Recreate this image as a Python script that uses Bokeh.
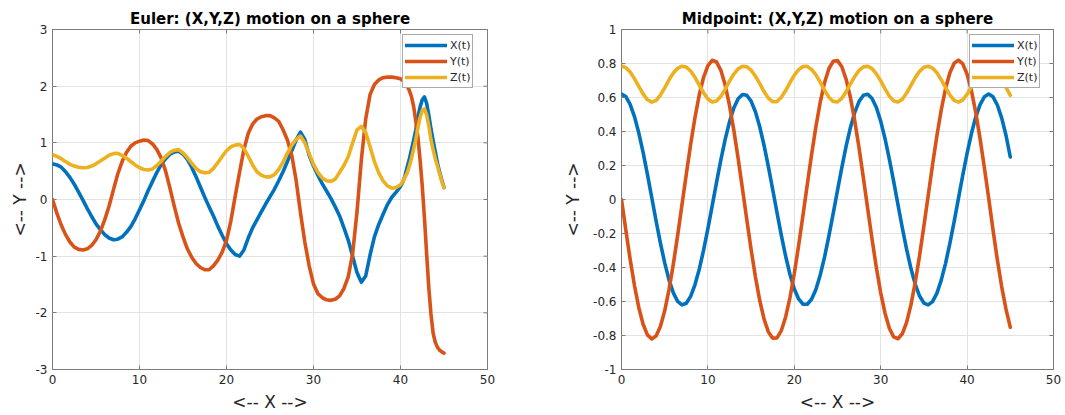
import math
from bokeh.plotting import figure
from bokeh.layouts import row
from bokeh.models import (Range1d, FixedTicker, PrintfTickFormatter,
                          Legend, LegendItem)
from bokeh.embed import file_html
from bokeh.resources import INLINE

# ---------------- data ----------------
x_ticks = [0, 10, 20, 30, 40, 50]
euler_y_ticks = [-3, -2, -1, 0, 1, 2, 3]
mid_y_ticks = [-1, -0.8, -0.6, -0.4, -0.2, 0, 0.2, 0.4, 0.6, 0.8, 1]
series_labels = ["X(t)", "Y(t)", "Z(t)"]

# time samples (Euler: finer near the end)
t_euler = [i * 0.5 for i in range(81)] + [40 + 0.25 * i for i in range(1, 21)]
t_mid = [i * 0.5 for i in range(91)]

euler_x = [0.63, 0.61, 0.57, 0.49, 0.39, 0.27, 0.13, -0.01, -0.16, -0.30, -0.43, -0.53, -0.62, -0.68, -0.71,
           -0.70, -0.66, -0.58, -0.48, -0.34, -0.18, -0.02, 0.16, 0.32, 0.48, 0.62, 0.72, 0.80, 0.84, 0.85,
           0.80, 0.71, 0.57, 0.40, 0.22, 0.04, -0.13, -0.29, -0.47, -0.63, -0.78, -0.89, -0.97, -1.00, -0.89,
           -0.68, -0.50, -0.36, -0.22, -0.08, 0.05, 0.18, 0.33, 0.49, 0.67, 0.86, 1.05, 1.19, 1.06, 0.78,
           0.59, 0.43, 0.28, 0.15, 0.02, -0.13, -0.29, -0.50, -0.72, -1.00, -1.29, -1.46, -1.35, -0.98, -0.66,
           -0.44, -0.26, -0.09, 0.04, 0.13, 0.23,
           0.30, 0.41, 0.56, 0.70, 0.87, 1.04, 1.22, 1.45, 1.63, 1.76, 1.81, 1.70, 1.49, 1.25, 1.04, 0.84, 0.64,
           0.48, 0.34, 0.21]
euler_y = [0.00, -0.24, -0.45, -0.62, -0.75, -0.84, -0.88, -0.89, -0.87, -0.81, -0.71, -0.56, -0.36, -0.12, 0.17,
           0.45, 0.67, 0.83, 0.94, 1.00, 1.03, 1.05, 1.04, 0.98, 0.88, 0.73, 0.50, 0.20, -0.12, -0.42,
           -0.66, -0.87, -1.02, -1.13, -1.20, -1.24, -1.24, -1.17, -1.07, -0.93, -0.72, -0.38, 0.06, 0.48, 0.88,
           1.17, 1.33, 1.42, 1.46, 1.48, 1.48, 1.44, 1.38, 1.23, 1.05, 0.78, 0.34, -0.23, -0.75, -1.17,
           -1.49, -1.66, -1.73, -1.77, -1.78, -1.76, -1.70, -1.57, -1.36, -0.95, -0.22, 0.70, 1.42, 1.85, 2.03,
           2.11, 2.15, 2.16, 2.16, 2.15, 2.13,
           2.10, 2.06, 2.01, 1.93, 1.82, 1.65, 1.40, 1.10, 0.70, 0.24, -0.32, -0.95, -1.55, -2.02, -2.36, -2.52,
           -2.61, -2.66, -2.69, -2.71]
euler_z = [0.79, 0.76, 0.72, 0.67, 0.62, 0.59, 0.57, 0.56, 0.565, 0.59, 0.63, 0.68, 0.73, 0.78, 0.81,
           0.815, 0.78, 0.73, 0.67, 0.61, 0.56, 0.53, 0.52, 0.54, 0.60, 0.68, 0.76, 0.83, 0.87, 0.88,
           0.82, 0.74, 0.64, 0.55, 0.49, 0.47, 0.48, 0.55, 0.65, 0.76, 0.86, 0.93, 0.96, 0.97, 0.90,
           0.76, 0.61, 0.49, 0.43, 0.40, 0.40, 0.44, 0.53, 0.66, 0.82, 0.96, 1.06, 1.12, 1.00, 0.81,
           0.62, 0.48, 0.38, 0.33, 0.32, 0.36, 0.48, 0.60, 0.76, 1.00, 1.23, 1.29, 1.18, 0.93, 0.67,
           0.47, 0.33, 0.24, 0.20, 0.21, 0.26,
           0.31, 0.39, 0.46, 0.58, 0.72, 0.88, 1.05, 1.26, 1.45, 1.57, 1.60, 1.50, 1.30, 1.06, 0.88, 0.72, 0.59,
           0.45, 0.32, 0.21]

mid_x = [0.620, 0.605, 0.560, 0.488, 0.392, 0.277, 0.148, 0.012, -0.125, -0.255, -0.373, -0.473, -0.549, -0.599, -0.620,
         -0.610, -0.570, -0.502, -0.410, -0.298, -0.171, -0.036, 0.101, 0.233, 0.354, 0.457, 0.538, 0.593, 0.618, 0.613,
         0.579, 0.516, 0.428, 0.318, 0.194, 0.059, -0.078, -0.211, -0.334, -0.441, -0.526, -0.585, -0.616, -0.616, -0.587,
         -0.529, -0.444, -0.339, -0.216, -0.083, 0.054, 0.188, 0.314, 0.424, 0.513, 0.577, 0.613, 0.619, 0.594, 0.541,
         0.461, 0.358, 0.238, 0.107, -0.030, -0.166, -0.293, -0.406, -0.499, -0.568, -0.609, -0.620, -0.601, -0.552, -0.476,
         -0.377, -0.260, -0.130, 0.007, 0.143, 0.272, 0.388, 0.485, 0.558, 0.604, 0.620, 0.604, 0.556, 0.480, 0.378,
         0.250]
mid_y = [0.000, -0.180, -0.352, -0.506, -0.635, -0.734, -0.796, -0.820, -0.803, -0.747, -0.655, -0.530, -0.380, -0.211, -0.031,
         0.149, 0.323, 0.481, 0.615, 0.719, 0.788, 0.819, 0.809, 0.760, 0.673, 0.554, 0.408, 0.241, 0.063, -0.118,
         -0.294, -0.455, -0.594, -0.704, -0.779, -0.816, -0.814, -0.771, -0.691, -0.577, -0.435, -0.271, -0.094, 0.087, 0.264,
         0.428, 0.572, 0.687, 0.769, 0.813, 0.817, 0.781, 0.707, 0.599, 0.461, 0.301, 0.125, -0.056, -0.234, -0.401,
         -0.549, -0.669, -0.757, -0.808, -0.819, -0.790, -0.723, -0.620, -0.487, -0.330, -0.156, 0.024, 0.204, 0.374, 0.525,
         0.651, 0.744, 0.802, 0.820, 0.798, 0.737, 0.640, 0.512, 0.358, 0.187, 0.007, -0.180, -0.355, -0.512, -0.645,
         -0.752]
mid_z = [0.785, 0.776, 0.750, 0.711, 0.665, 0.621, 0.587, 0.573, 0.582, 0.614, 0.657, 0.704, 0.744, 0.772, 0.784,
         0.779, 0.756, 0.719, 0.673, 0.628, 0.591, 0.573, 0.579, 0.607, 0.649, 0.696, 0.738, 0.769, 0.784, 0.781,
         0.761, 0.726, 0.682, 0.635, 0.596, 0.575, 0.576, 0.601, 0.641, 0.688, 0.731, 0.764, 0.782, 0.783, 0.765,
         0.733, 0.690, 0.643, 0.602, 0.577, 0.574, 0.595, 0.634, 0.680, 0.724, 0.760, 0.780, 0.784, 0.770, 0.739,
         0.698, 0.651, 0.608, 0.580, 0.573, 0.590, 0.626, 0.672, 0.717, 0.754, 0.778, 0.784, 0.773, 0.746, 0.705,
         0.659, 0.615, 0.583, 0.573, 0.586, 0.619, 0.664, 0.710, 0.749, 0.775, 0.785, 0.775, 0.748, 0.708, 0.660,
         0.613]

# ---------------- styling ----------------
COLORS = ["#0072BD", "#D95319", "#EDB120"]
FONT = "DejaVu Sans"
TXT = "#262626"
BOX = "#7a7a7a"
GRID = "#e3e3e3"


def style_axis(ax, ticks, label, label_standoff):
    ax.ticker = FixedTicker(ticks=ticks)
    ax.formatter = PrintfTickFormatter(format="%g")
    ax.axis_line_color = None
    ax.major_tick_in = 4
    ax.major_tick_out = 0
    ax.major_tick_line_color = BOX
    ax.minor_tick_line_color = None
    ax.major_label_text_font = FONT
    ax.major_label_text_color = TXT
    ax.major_label_text_font_size = "12px"
    ax.major_label_standoff = 5
    ax.axis_label = label
    ax.axis_label_text_font = FONT
    ax.axis_label_text_font_size = "17px"
    ax.axis_label_text_font_style = "normal"
    ax.axis_label_text_color = TXT
    ax.axis_label_standoff = label_standoff


def build(title, t, xs, ys, zs, ylim, yticks, left, frame_w, right, ylab_standoff, legend_xy):
    p = figure(width=left + frame_w + right, height=414,
               x_range=Range1d(0, 50), y_range=Range1d(*ylim),
               output_backend="svg", toolbar_location=None,
               min_border_left=left, min_border_right=right,
               min_border_top=29, min_border_bottom=45,
               outline_line_color=BOX, outline_line_width=1,
               background_fill_color="white", border_fill_color="white",
               title=title)
    p.title.align = "center"
    p.title.text_font = FONT
    p.title.text_font_size = "15px"
    p.title.text_font_style = "bold"
    p.title.text_color = "#000000"
    p.title.standoff = 3

    style_axis(p.xaxis[0], x_ticks, "<-- X -->", 5)
    style_axis(p.yaxis[0], yticks, "<-- Y -->", ylab_standoff)

    p.xgrid.ticker = FixedTicker(ticks=x_ticks)
    p.ygrid.ticker = FixedTicker(ticks=yticks)
    for g in (p.xgrid, p.ygrid):
        g.grid_line_color = GRID
        g.grid_line_width = 1

    # MATLAB-style inward ticks on the top and right edges of the box
    p.scatter(x_ticks, [ylim[1]] * len(x_ticks), marker="dash", angle=math.pi / 2,
              size=8, line_color=BOX, line_width=1)
    p.scatter([50] * len(yticks), yticks, marker="dash", size=8, line_color=BOX, line_width=1)

    items = []
    for vals, col, lab in zip((xs, ys, zs), COLORS, series_labels):
        r = p.line(t, vals, line_color=col, line_width=3.6, line_join="round", line_cap="round")
        items.append(LegendItem(label=lab, renderers=[r]))
    leg = Legend(items=items, location=legend_xy)
    leg.margin = 0
    leg.padding = 2
    leg.spacing = 0
    leg.glyph_height = 16
    leg.label_height = 16
    leg.glyph_width = 42
    leg.label_standoff = 3
    leg.label_width = 10
    leg.label_text_font = FONT
    leg.label_text_font_size = "11px"
    leg.label_text_color = TXT
    leg.border_line_color = "#555555"
    leg.border_line_width = 1
    leg.background_fill_color = "white"
    leg.background_fill_alpha = 1
    p.add_layout(leg)
    return p


p1 = build("Euler: (X,Y,Z) motion on a sphere", t_euler, euler_x, euler_y, euler_z,
           (-3, 3), euler_y_ticks, left=52, frame_w=435, right=64, ylab_standoff=3,
           legend_xy=(350, 281))
p2 = build("Midpoint: (X,Y,Z) motion on a sphere", t_mid, mid_x, mid_y, mid_z,
           (-1, 1), mid_y_ticks, left=70, frame_w=432, right=10, ylab_standoff=7,
           legend_xy=(348, 281))

layout = row(p1, p2)
open("out.html", "w").write(file_html(layout, INLINE, "Motion on a sphere"))
